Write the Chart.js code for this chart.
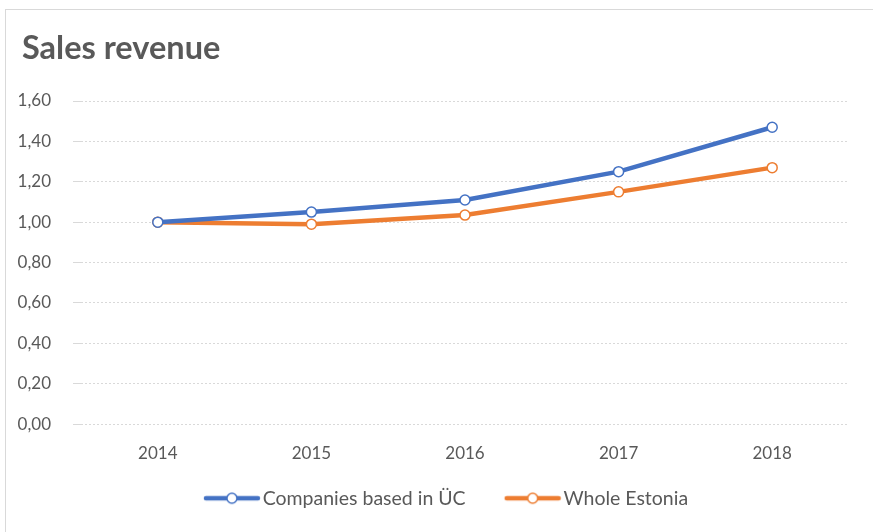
<!DOCTYPE html>
<html>

<head>
  <meta charset="UTF-8">
  <title>Sales revenue</title>
  <script src="https://cdn.jsdelivr.net/npm/chart.js"></script>
  <style>
    body {
      margin: 0;
      background: #fff;
      overflow: hidden;
    }

    .frame {
      position: absolute;
      left: 5px;
      top: 9px;
      width: 900px;
      height: 600px;
      border: 1px solid #d9d9d9;
    }

    #chart {
      position: absolute;
      left: 0;
      top: 0;
    }
  </style>
</head>

<body>
  <div class="frame"></div>
  <canvas id="chart" width="873" height="532"></canvas>

  <script>
    const years = ['2014', '2015', '2016', '2017', '2018'];
    const companiesUC = [1.00, 1.05, 1.11, 1.25, 1.47];
    const wholeEstonia = [1.00, 0.99, 1.035, 1.15, 1.27];
    const yTickLabels = ['0,00', '0,20', '0,40', '0,60', '0,80', '1,00', '1,20', '1,40', '1,60'];

    const blue = '#4472C4';
    const orange = '#ED7D31';
    const textGrey = '#595959';
    const fontFamily = 'Lato, "Liberation Sans", sans-serif';

    // legend marker: line with a hollow circle, blank space on the left acts as gap between items
    function legendMarker(color) {
      const c = document.createElement('canvas');
      c.width = 90;
      c.height = 14;
      const g = c.getContext('2d');
      g.strokeStyle = color;
      g.lineWidth = 4.5;
      g.lineCap = 'round';
      g.beginPath();
      g.moveTo(35, 7);
      g.lineTo(87, 7);
      g.stroke();
      g.fillStyle = '#fff';
      g.lineWidth = 1.5;
      g.beginPath();
      g.arc(61, 7, 5, 0, Math.PI * 2);
      g.fill();
      g.stroke();
      return c;
    }

    function series(label, data, color) {
      return {
        label: label,
        data: data,
        borderColor: color,
        backgroundColor: '#fff',
        borderWidth: 4.5,
        pointRadius: 5,
        pointBorderWidth: 1.5,
        pointBackgroundColor: '#fff',
        pointBorderColor: color,
        tension: 0
      };
    }

    // nudge the title a few px right of the y tick labels
    const titleShift = {
      id: 'titleShift',
      afterLayout(chart) {
        chart.titleBlock.left += 4;
        chart.titleBlock.right += 4;
      }
    };

    const markers = [legendMarker(blue), legendMarker(orange)];

    new Chart(document.getElementById('chart').getContext('2d'), {
      type: 'line',
      data: {
        labels: years,
        datasets: [
          series('Companies based in ÜC', companiesUC, blue),
          series('Whole Estonia', wholeEstonia, orange)
        ]
      },
      plugins: [titleShift],
      options: {
        responsive: false,
        animation: false,
        layout: {
          padding: { left: 18, right: 24, top: 0, bottom: 14 }
        },
        plugins: {
          title: {
            display: true,
            text: 'Sales revenue',
            align: 'start',
            color: textGrey,
            font: { family: fontFamily, size: 32.5, weight: 'bold' },
            padding: { top: 29, bottom: 33 }
          },
          legend: {
            position: 'bottom',
            labels: {
              usePointStyle: true,
              pointStyleWidth: 74,
              color: textGrey,
              font: { family: fontFamily, size: 19.5 },
              padding: 14,
              generateLabels(chart) {
                return chart.data.datasets.map((ds, i) => ({
                  text: ds.label,
                  pointStyle: markers[i],
                  fontColor: textGrey,
                  datasetIndex: i,
                  lineWidth: 0,
                  strokeStyle: 'transparent',
                  fillStyle: 'transparent'
                }));
              }
            }
          },
          tooltip: { enabled: false }
        },
        scales: {
          x: {
            offset: true,
            grid: { display: false },
            border: { display: false },
            ticks: {
              color: textGrey,
              font: { family: fontFamily, size: 17 },
              padding: 11
            }
          },
          y: {
            min: 0,
            max: 1.6,
            afterFit(scale) { scale.width = 63; },
            grid: {
              color: '#d9d9d9',
              lineWidth: 1
            },
            border: { display: false, dash: [2, 2] },
            ticks: {
              stepSize: 0.2,
              color: textGrey,
              font: { family: fontFamily, size: 17 },
              padding: 22,
              callback: (v, i) => yTickLabels[i]
            }
          }
        }
      }
    });
  </script>
</body>

</html>
